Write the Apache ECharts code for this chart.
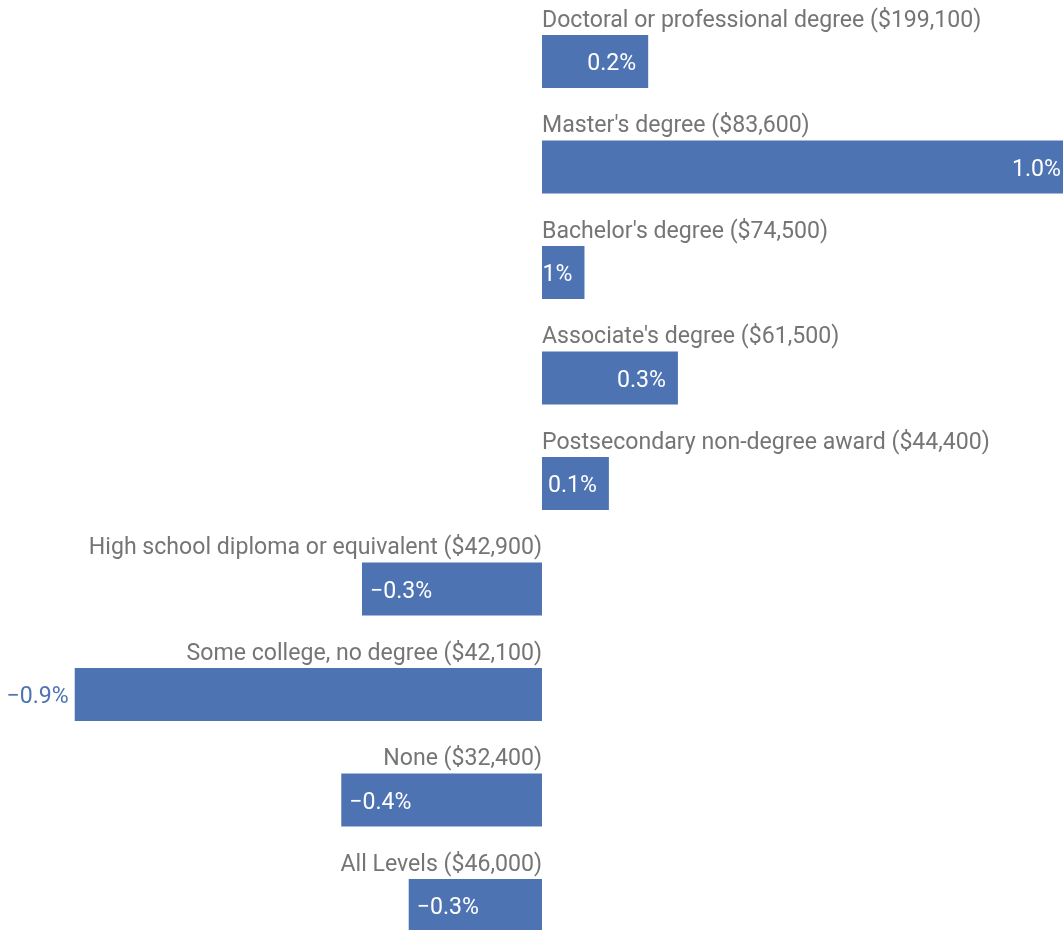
<!DOCTYPE html>
<html>
<head>
<meta charset="utf-8">
<script src="https://cdn.jsdelivr.net/npm/echarts@6/dist/echarts.min.js"></script>
<style>
html,body{margin:0;padding:0;background:#fff;overflow:hidden;}
#chart{width:1063px;height:960px;}
</style>
</head>
<body>
<div id="chart"></div>
<script>
var categories = [
  "Doctoral or professional degree ($199,100)",
  "Master's degree ($83,600)",
  "Bachelor's degree ($74,500)",
  "Associate's degree ($61,500)",
  "Postsecondary non-degree award ($44,400)",
  "High school diploma or equivalent ($42,900)",
  "Some college, no degree ($42,100)",
  "None ($32,400)",
  "All Levels ($46,000)"
];
var changeValues = [0.20, 1.00, 0.08, 0.256, 0.126, -0.339, -0.88, -0.378, -0.251];
var valueLabels = ["0.2%", "1.0%", "1%", "0.3%", "0.1%", "\u22120.3%", "\u22120.9%", "\u22120.4%", "\u22120.3%"];
var outsideLabel = [false, false, false, false, false, false, true, false, false];

var BAR = '#4e73b3';
var GRAY = '#757575';
var FONT = 'Roboto';
var FS = 23.1;

var mainData = changeValues.map(function (v, i) {
  var lab;
  if (outsideLabel[i]) {
    lab = { position: 'left', distance: 6, color: BAR };
  } else if (v >= 0) {
    lab = { position: 'insideRight', distance: 12, color: '#fff' };
  } else {
    lab = { position: 'insideLeft', distance: 8, color: '#fff' };
  }
  return { value: v, label: lab };
});

var nameData = changeValues.map(function (v, i) {
  return {
    value: 0,
    label: { align: v >= 0 ? 'left' : 'right' }
  };
});

var chart = echarts.init(document.getElementById('chart'));
chart.setOption({
  animation: false,
  textStyle: { fontFamily: FONT },
  grid: { left: 0, right: 0, top: 8.75, height: 949.5, containLabel: false },
  xAxis: {
    type: 'value', min: -1.0207, max: 0.9812,
    show: false, splitLine: { show: false }
  },
  yAxis: {
    type: 'category', data: categories, inverse: true, show: false
  },
  series: [
    {
      type: 'bar',
      data: mainData,
      barWidth: 53,
      barGap: '-100%',
      clip: false,
      itemStyle: { color: BAR },
      label: {
        show: true,
        fontFamily: FONT,
        fontSize: FS,
        offset: [0, 3],
        formatter: function (p) { return valueLabels[p.dataIndex]; }
      },
      silent: true,
      z: 2
    },
    {
      type: 'bar',
      data: nameData,
      barWidth: 53,
      barGap: '-100%',
      clip: false,
      itemStyle: { color: 'transparent' },
      label: {
        show: true,
        position: [0, -14],
        verticalAlign: 'middle',
        fontFamily: FONT,
        fontSize: FS,
        color: GRAY,
        formatter: function (p) { return categories[p.dataIndex]; }
      },
      silent: true,
      z: 3
    }
  ]
});
</script>
</body>
</html>
